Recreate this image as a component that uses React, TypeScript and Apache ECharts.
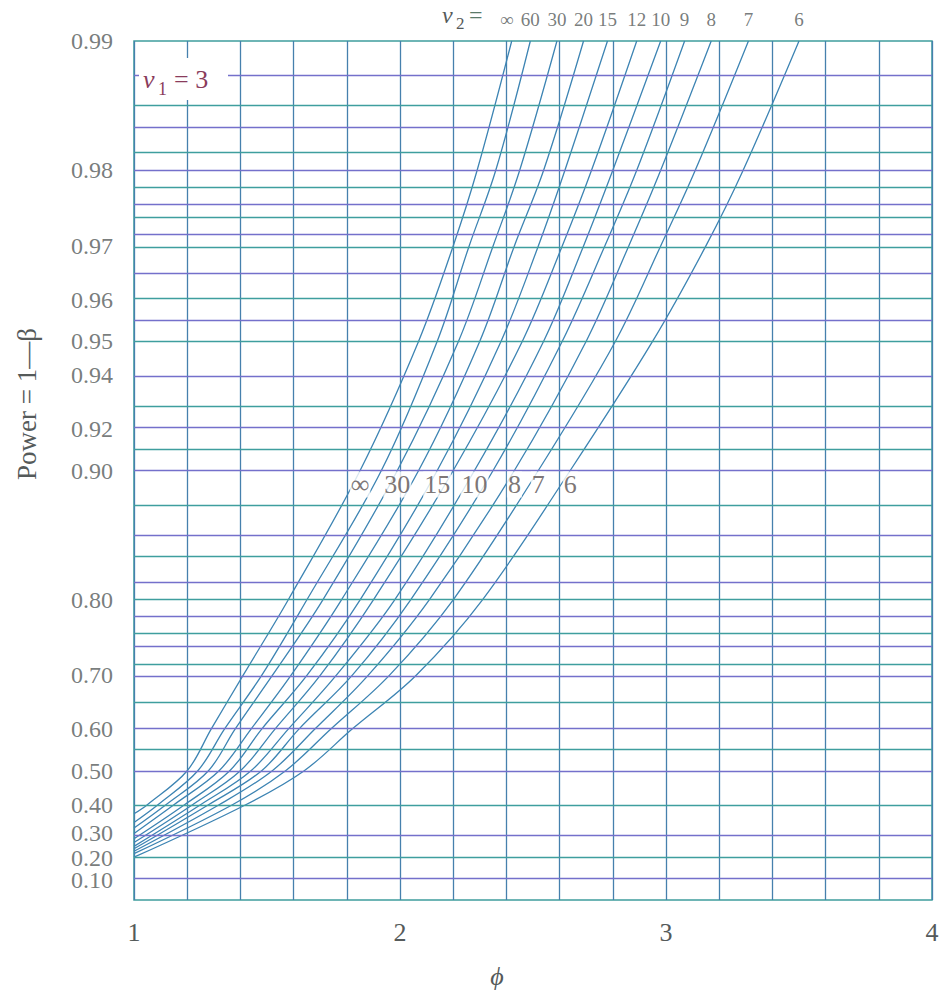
import React, { useEffect, useRef } from "react";
import * as echarts from "echarts";

// Operating characteristic (power) curves, v1 = 3, one curve per v2.
const NU2 = ["∞", "60", "30", "20", "15", "12", "10", "9", "8", "7", "6"];

// Power of each curve at phi = 1 (left edge).
const POWER_AT_PHI_ONE = [0.37, 0.34, 0.32, 0.3, 0.28, 0.265, 0.25, 0.24, 0.23, 0.22, 0.205];

// Power levels at which each curve's phi is read.
const POWER_LEVELS = [0.4, 0.5, 0.6, 0.7, 0.8, 0.9, 0.95, 0.97, 0.98, 0.99];

// phi where each curve reaches the power levels above.
const PHI_INF = [1.05, 1.2, 1.29, 1.41, 1.58, 1.85, 2.07, 2.2, 2.29, 2.42];
const PHI_60 = [1.09, 1.24, 1.34, 1.48, 1.65, 1.93, 2.14, 2.26, 2.36, 2.49];
const PHI_30 = [1.12, 1.28, 1.38, 1.52, 1.71, 1.99, 2.22, 2.35, 2.45, 2.59];
const PHI_20 = [1.15, 1.32, 1.44, 1.59, 1.78, 2.07, 2.3, 2.43, 2.54, 2.69];
const PHI_15 = [1.19, 1.36, 1.48, 1.65, 1.85, 2.14, 2.38, 2.52, 2.62, 2.78];
const PHI_12 = [1.22, 1.4, 1.53, 1.7, 1.9, 2.2, 2.46, 2.61, 2.72, 2.89];
const PHI_10 = [1.25, 1.44, 1.58, 1.76, 1.98, 2.28, 2.54, 2.69, 2.8, 2.98];
const PHI_9 = [1.28, 1.48, 1.62, 1.82, 2.04, 2.35, 2.61, 2.77, 2.89, 3.07];
const PHI_8 = [1.32, 1.52, 1.68, 1.88, 2.11, 2.43, 2.7, 2.86, 2.98, 3.17];
const PHI_7 = [1.37, 1.57, 1.74, 1.96, 2.2, 2.52, 2.81, 2.98, 3.11, 3.31];
const PHI_6 = [1.42, 1.64, 1.82, 2.06, 2.31, 2.64, 2.95, 3.15, 3.29, 3.5];

const PHI_AT_LEVELS = [PHI_INF, PHI_60, PHI_30, PHI_20, PHI_15, PHI_12, PHI_10, PHI_9, PHI_8, PHI_7, PHI_6];

// Curves labelled again in the middle of the chart (at the 0.90 level).
const MID_LABELLED = ["∞", "30", "15", "10", "8", "7", "6"];

// Horizontal rulings of the power scale.
const GRID_POWERS = [
  0.1, 0.2, 0.3, 0.4, 0.5, 0.55, 0.6, 0.65, 0.7, 0.72, 0.74, 0.76, 0.78, 0.8, 0.82, 0.84, 0.86, 0.88,
  0.9, 0.91, 0.92, 0.93, 0.94, 0.95, 0.955, 0.96, 0.965, 0.97, 0.972, 0.974, 0.976, 0.978, 0.98,
  0.982, 0.984, 0.986, 0.988,
];

// Power values printed along the left edge (the lowest one is set a little
// below its ruling so it clears 0.20), and phi values along the bottom.
const Y_LABEL_POWERS = [0.2, 0.3, 0.4, 0.5, 0.6, 0.7, 0.8, 0.9, 0.92, 0.94, 0.95, 0.96, 0.97, 0.98, 0.99];
const Y_LABEL_LOWEST = [0.1];
const X_LABELS = [1, 2, 3, 4];

const SERIF = '"Liberation Serif", "Times New Roman", serif';
const TEXT_GREY = "#555a5a";
const CURVE_COLOR = "#3d84b3";
const VLINE_COLOR = "#4680ad";
const HLINE_COLORS = ["#7470cb", "#3f9e9e"];
const FRAME_COLOR = "#3f9d9d";

// Power scale: distance from the bottom is -log10(beta).
const toT = (p: number) => Math.min(2, -Math.log10(1 - p));

const yLabelStyle = {
  show: true,
  position: "left",
  distance: 21,
  formatter: "{b}",
  fontFamily: SERIF,
  fontSize: 24,
  lineHeight: 22,
  color: TEXT_GREY,
};

export default function App() {
  const ref = useRef<HTMLDivElement>(null);

  useEffect(() => {
    if (!ref.current) return;
    const chart = echarts.init(ref.current, undefined, { renderer: "svg" });

    const curveSeries = NU2.map((name, i) => ({
      type: "line",
      name,
      data: [
        [1, toT(POWER_AT_PHI_ONE[i])],
        ...POWER_LEVELS.map((p, j) => [PHI_AT_LEVELS[i][j], toT(p)]),
      ],
      smooth: 0.35,
      showSymbol: false,
      symbol: "none",
      silent: true,
      z: 3,
      lineStyle: { color: CURVE_COLOR, width: 1.3 },
    }));

    const lastIdx = POWER_LEVELS.length - 1;
    const midIdx = POWER_LEVELS.indexOf(0.9);

    const option: any = {
      animation: false,
      backgroundColor: "#ffffff",
      grid: {
        left: 134,
        right: 13,
        top: 41,
        bottom: 92,
        show: true,
        borderColor: FRAME_COLOR,
        borderWidth: 1.5,
        backgroundColor: "#ffffff",
        containLabel: false,
        outerBoundsMode: "none",
      },
      xAxis: {
        type: "value",
        min: 1,
        max: 4,
        interval: 0.2,
        axisLine: { show: false },
        axisTick: { show: false },
        splitLine: { show: true, lineStyle: { color: VLINE_COLOR, width: 1.3 } },
        axisLabel: {
          customValues: X_LABELS,
          formatter: (v: number) => String(Math.round(v)),
          fontFamily: SERIF,
          fontSize: 26,
          color: TEXT_GREY,
          margin: 19,
          showMinLabel: true,
          showMaxLabel: true,
        },
      },
      yAxis: {
        type: "value",
        min: 0,
        max: 2,
        axisLine: { show: false },
        axisTick: { show: false },
        splitLine: { show: false },
        axisLabel: { show: false },
      },
      series: [
        {
          type: "line",
          data: [],
          silent: true,
          z: 1,
          markLine: {
            silent: true,
            symbol: ["none", "none"],
            label: { show: false },
            animation: false,
            data: GRID_POWERS.map((p, i) => ({
              yAxis: toT(p),
              lineStyle: { color: HLINE_COLORS[i % 2], width: 1.4, type: "solid" },
            })),
          },
        },
        ...curveSeries,
        // power-scale labels along the left edge, placed through the y scale
        {
          type: "scatter",
          symbolSize: 0,
          silent: true,
          clip: false,
          z: 10,
          data: Y_LABEL_POWERS.map((p) => ({ name: p.toFixed(2), value: [1, toT(p)] })),
          label: yLabelStyle,
          labelLayout: { hideOverlap: false },
        },
        {
          type: "scatter",
          symbolSize: 0,
          silent: true,
          clip: false,
          z: 10,
          data: Y_LABEL_LOWEST.map((p) => ({ name: p.toFixed(2), value: [1, toT(p)] })),
          label: { ...yLabelStyle, offset: [0, 7] },
          labelLayout: { hideOverlap: false },
        },
        {
          type: "scatter",
          symbolSize: 0,
          silent: true,
          z: 10,
          data: MID_LABELLED.map((name) => {
            const i = NU2.indexOf(name);
            return { name, value: [PHI_AT_LEVELS[i][midIdx], toT(POWER_LEVELS[midIdx])] };
          }),
          label: {
            show: true,
            position: "inside",
            offset: [0, 14],
            formatter: "{b}",
            fontFamily: SERIF,
            fontSize: 26,
            color: "#5a5252",
            backgroundColor: "#ffffff",
            padding: [0, 1, 0, 1],
          },
        },
        {
          type: "scatter",
          symbolSize: 0,
          silent: true,
          clip: false,
          z: 10,
          data: NU2.map((name, i) => ({
            name,
            value: [PHI_AT_LEVELS[i][lastIdx], toT(POWER_LEVELS[lastIdx])],
            label: i === 0 ? { offset: [-5, 0] } : undefined,
          })),
          label: {
            show: true,
            position: "top",
            distance: 12,
            formatter: "{b}",
            fontFamily: SERIF,
            fontSize: 19,
            color: TEXT_GREY,
          },
        },
      ],
      graphic: [
        // v1 = 3 tag in the upper-left corner
        { type: "rect", z: 100, shape: { x: 139, y: 58, width: 89, height: 42 }, style: { fill: "#ffffff" } },
        {
          type: "text", z: 101, x: 143, y: 79,
          style: { text: "ν", fontFamily: SERIF, fontStyle: "italic", fontSize: 26, fill: "#8a3c5c", verticalAlign: "middle" },
        },
        {
          type: "text", z: 101, x: 158, y: 89,
          style: { text: "1", fontFamily: SERIF, fontSize: 18, fill: "#8a3c5c", verticalAlign: "middle" },
        },
        {
          type: "text", z: 101, x: 174, y: 79,
          style: { text: "= 3", fontFamily: SERIF, fontSize: 26, fill: "#8a3c5c", verticalAlign: "middle" },
        },
        // v2 = prefix of the top labels
        {
          type: "text", z: 101, x: 442, y: 15,
          style: { text: "ν", fontFamily: SERIF, fontStyle: "italic", fontSize: 24, fill: TEXT_GREY, verticalAlign: "middle" },
        },
        {
          type: "text", z: 101, x: 456, y: 23,
          style: { text: "2", fontFamily: SERIF, fontSize: 17, fill: TEXT_GREY, verticalAlign: "middle" },
        },
        {
          type: "text", z: 101, x: 469, y: 15,
          style: { text: "=", fontFamily: SERIF, fontSize: 24, fill: "#5b7a6a", verticalAlign: "middle" },
        },
        // axis titles
        {
          type: "text", z: 101, x: 27, y: 404, rotation: Math.PI / 2,
          style: { text: "Power = 1—β", fontFamily: SERIF, fontSize: 27, fill: TEXT_GREY, align: "center", verticalAlign: "middle" },
        },
        {
          type: "text", z: 101, x: 497, y: 976,
          style: { text: "ϕ", fontFamily: SERIF, fontStyle: "italic", fontSize: 26, fill: TEXT_GREY, align: "center", verticalAlign: "middle" },
        },
      ],
    };

    chart.setOption(option);
    return () => chart.dispose();
  }, []);

  return (
    <div
      ref={ref}
      style={{ position: "fixed", left: 0, top: 0, width: 945, height: 992, background: "#ffffff" }}
    />
  );
}
